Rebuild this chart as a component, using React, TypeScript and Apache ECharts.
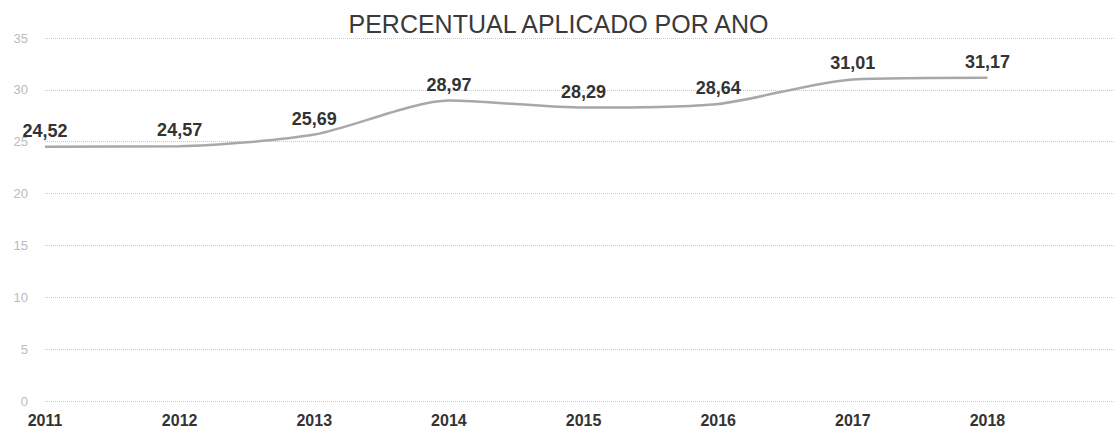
import React, { useEffect, useRef } from "react";
import * as echarts from "echarts";

const years = [2011, 2012, 2013, 2014, 2015, 2016, 2017, 2018];
const percentuais = [24.52, 24.57, 25.69, 28.97, 28.29, 28.64, 31.01, 31.17];
const titulo = "PERCENTUAL APLICADO POR ANO";

export default function App() {
  const ref = useRef<HTMLDivElement>(null);
  useEffect(() => {
    if (!ref.current) return;
    const chart = echarts.init(ref.current, undefined, { renderer: "svg" });
    chart.setOption({
      animation: false,
      backgroundColor: "#ffffff",
      title: {
        text: titulo,
        left: "center",
        top: 6,
        textStyle: { fontFamily: "Liberation Sans", fontSize: 25, fontWeight: "normal", color: "#3a3a3a" },
      },
      grid: { left: 45, right: 0, top: 38, bottom: 42 },
      xAxis: {
        type: "value",
        min: 2011,
        max: 2018.94,
        interval: 1,
        axisLine: { show: false },
        axisTick: { show: false },
        splitLine: { show: false },
        axisLabel: {
          margin: 11,
          fontFamily: "Liberation Sans",
          fontSize: 16,
          fontWeight: "bold",
          color: "#333",
          formatter: (v: number) => (Number.isInteger(v) && v <= 2018 ? String(v) : ""),
        },
      },
      yAxis: {
        type: "value",
        min: 0,
        max: 35,
        interval: 5,
        axisLine: { show: false },
        axisTick: { show: false },
        splitLine: { lineStyle: { type: "dotted", color: "#c8c8c8", width: 1 } },
        axisLabel: { margin: 17, fontFamily: "Liberation Sans", fontSize: 13, color: "#bbbbbb" },
      },
      series: [
        {
          type: "line",
          data: years.map((y, i) => [y, percentuais[i]]),
          smooth: 0.25,
          showSymbol: true,
          symbol: "circle",
          symbolSize: 2,
          itemStyle: { color: "rgba(0,0,0,0)", borderWidth: 0 },
          lineStyle: { color: "#a8a8a8", width: 2.5 },
          label: {
            show: true,
            position: "top",
            distance: 6,
            fontFamily: "Liberation Sans",
            fontSize: 18,
            fontWeight: "bold",
            color: "#333",
            formatter: (p: any) => p.value[1].toFixed(2).replace(".", ","),
          },
        },
      ],
    });
    return () => chart.dispose();
  }, []);
  return (
    <div
      ref={ref}
      style={{ position: "fixed", left: 0, top: 0, width: 1117, height: 443 }}
    />
  );
}
